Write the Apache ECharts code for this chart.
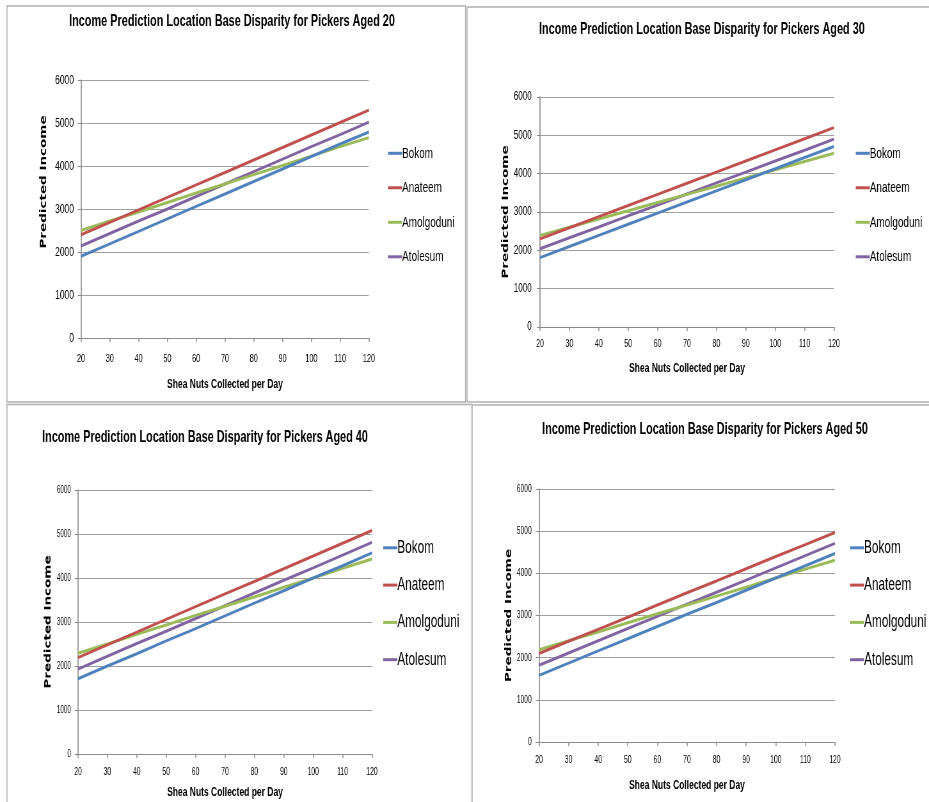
<!DOCTYPE html>
<html>
<head>
<meta charset="utf-8">
<script src="https://cdn.jsdelivr.net/npm/echarts@6/dist/echarts.min.js"></script>
<style>
html,body{margin:0;padding:0;background:#fff;overflow:hidden;width:929px;height:802px;}
/* the reference is a horizontally condensed picture: draw wide, then condense */
#c{width:1452px;height:802px;transform:scaleX(0.6398);transform-origin:0 0;}
</style>
</head>
<body>
<div id="c"></div>
<script>
// ---- data ----
const categories = ['20','30','40','50','60','70','80','90','100','110','120'];
const seriesNames = ['Bokom','Anateem','Amolgoduni','Atolesum'];
const ages = [20, 30, 40, 50];
const yTicks = [0,1000,2000,3000,4000,5000,6000];

const age20Bokom      = [1900,2190,2480,2770,3060,3350,3640,3930,4220,4510,4790];
const age20Anateem    = [2400,2690,2980,3270,3560,3850,4140,4430,4720,5010,5300];
const age20Amolgoduni = [2500,2720,2930,3150,3370,3580,3800,4010,4230,4450,4660];
const age20Atolesum   = [2140,2430,2720,3000,3290,3580,3870,4160,4450,4730,5020];

const age30Bokom      = [1810,2100,2390,2680,2970,3260,3550,3840,4130,4420,4710];
const age30Anateem    = [2300,2590,2880,3170,3460,3750,4040,4330,4620,4910,5200];
const age30Amolgoduni = [2390,2600,2820,3030,3250,3460,3670,3890,4100,4320,4530];
const age30Atolesum   = [2040,2330,2610,2900,3180,3470,3760,4040,4330,4610,4900];

const age40Bokom      = [1710,2000,2280,2570,2850,3140,3430,3710,4000,4280,4570];
const age40Anateem    = [2190,2480,2770,3060,3350,3640,3920,4210,4500,4790,5080];
const age40Amolgoduni = [2290,2500,2720,2930,3150,3360,3570,3790,4000,4220,4430];
const age40Atolesum   = [1930,2220,2510,2790,3080,3370,3660,3950,4230,4520,4810];

const age50Bokom      = [1580,1870,2160,2450,2740,3030,3310,3600,3890,4180,4470];
const age50Anateem    = [2100,2390,2670,2960,3250,3540,3820,4110,4400,4680,4970];
const age50Amolgoduni = [2190,2400,2610,2830,3040,3250,3460,3670,3890,4100,4310];
const age50Atolesum   = [1820,2110,2400,2690,2980,3270,3550,3840,4130,4420,4710];

const panelData = [
  [age20Bokom, age20Anateem, age20Amolgoduni, age20Atolesum],
  [age30Bokom, age30Anateem, age30Amolgoduni, age30Atolesum],
  [age40Bokom, age40Anateem, age40Amolgoduni, age40Atolesum],
  [age50Bokom, age50Anateem, age50Amolgoduni, age50Atolesum]
];

// ---- layout / style (internal, un-condensed coordinates) ----
const colors = ['#4F81BD','#C0504D','#9BBB59','#8064A2'];
const FONT = '"Liberation Sans", Arial, sans-serif';
const layout = [
  {grid:{left:126.6,top:80,width:450,height:258},  title:{x:362.6,y:13},  legend:{x:606.5,y:145.3,gap:18.5,size:15.5},
   xName:39.4, yName:51, yPad:[0,0,0,54], yTick:13.3, yMargin:11, xTick:11.6, xMargin:14.5},
  {grid:{left:844,top:97,width:459.5,height:230},   title:{x:1097,y:21},   legend:{x:1337.5,y:145.3,gap:18.5,size:15.5},
   xName:34.4, yName:46.9, yPad:0, yTick:12.6, yMargin:13, xTick:11, xMargin:11.5},
  {grid:{left:121.9,top:490,width:459.5,height:264}, title:{x:320.4,y:429}, legend:{x:599,y:538.8,gap:19.3,size:18.4},
   xName:31.4, yName:39.7, yPad:0, yTick:10, yMargin:11, xTick:10.6, xMargin:12.4},
  {grid:{left:842.4,top:489,width:462.6,height:253}, title:{x:1101.9,y:421}, legend:{x:1328.6,y:538.8,gap:19.3,size:18.4},
   xName:36.4, yName:39.7, yPad:0, yTick:10.5, yMargin:11.4, xTick:10.6, xMargin:12.7}
];
const axisGray = '#8a8a8a';
const gridGray = '#9f9f9f';
const borderGray = '#b0b0b0';

const option = {
  backgroundColor:'#fff',
  animation:false,
  color: colors,
  title:[], legend:[], grid:[], xAxis:[], yAxis:[], series:[],
  graphic:[
    {type:'rect', shape:{x:10.9,y:6,width:716.7,height:396}, style:{fill:'none',stroke:borderGray,lineWidth:1.6}},
    {type:'rect', shape:{x:730,y:7,width:760,height:395}, style:{fill:'none',stroke:borderGray,lineWidth:1.6}},
    {type:'rect', shape:{x:10.9,y:404.5,width:726.8,height:420}, style:{fill:'none',stroke:borderGray,lineWidth:1.6}},
    {type:'rect', shape:{x:737.7,y:405,width:760,height:420}, style:{fill:'none',stroke:borderGray,lineWidth:1.6}}
  ]
};

ages.forEach((age, i) => {
  const L = layout[i];
  option.title.push({
    text:'Income Prediction Location Base Disparity for Pickers Aged ' + age,
    left:L.title.x, top:L.title.y, textAlign:'center', padding:0,
    textStyle:{fontFamily:FONT, fontWeight:'bold', fontSize:17, color:'#000'}
  });
  option.legend.push({
    orient:'vertical', left:L.legend.x, top:L.legend.y, padding:0,
    data:seriesNames, icon:'rect', itemWidth:22, itemHeight:3, itemGap:L.legend.gap,
    selectedMode:false,
    textStyle:{fontFamily:FONT, fontSize:L.legend.size, color:'#000', padding:[0,0,0,-5]}
  });
  option.grid.push(Object.assign({containLabel:false}, L.grid));
  option.xAxis.push({
    type:'category', gridIndex:i, data:categories, boundaryGap:false,
    name:'Shea Nuts Collected per Day', nameLocation:'middle', nameGap:L.xName,
    nameTextStyle:{fontFamily:FONT, fontWeight:'bold', fontSize:13.3, color:'#000'},
    axisLine:{lineStyle:{color:axisGray, width:1}},
    axisTick:{show:true, length:4, lineStyle:{color:axisGray, width:1.5}},
    axisLabel:{fontFamily:FONT, fontSize:L.xTick, color:'#000', margin:L.xMargin},
    splitLine:{show:false}
  });
  option.yAxis.push({
    type:'value', gridIndex:i, min:yTicks[0], max:yTicks[yTicks.length-1], interval:1000,
    name:'Predicted Income', nameLocation:'middle', nameGap:L.yName, nameRotate:90,
    nameTextStyle:{fontFamily:'"DejaVu Sans", sans-serif', fontWeight:'bold', fontSize:13.5, color:'#000', padding:L.yPad},
    axisLine:{show:true, lineStyle:{color:axisGray, width:1.6}},
    axisTick:{show:true, length:5, lineStyle:{color:axisGray}},
    axisLabel:{fontFamily:FONT, fontSize:L.yTick, color:'#000', margin:L.yMargin, formatter:(v) => String(v)},
    splitLine:{show:true, lineStyle:{color:gridGray, width:1}}
  });
  seriesNames.forEach((nm, s) => {
    option.series.push({
      type:'line', name:nm, xAxisIndex:i, yAxisIndex:i,
      data:panelData[i][s], showSymbol:false, symbol:'none',
      lineStyle:{width:3, color:colors[s]}, itemStyle:{color:colors[s]},
      z: 10 - s
    });
  });
});

const chart = echarts.init(document.getElementById('c'), null, {renderer:'canvas'});
chart.setOption(option);
</script>
</body>
</html>
